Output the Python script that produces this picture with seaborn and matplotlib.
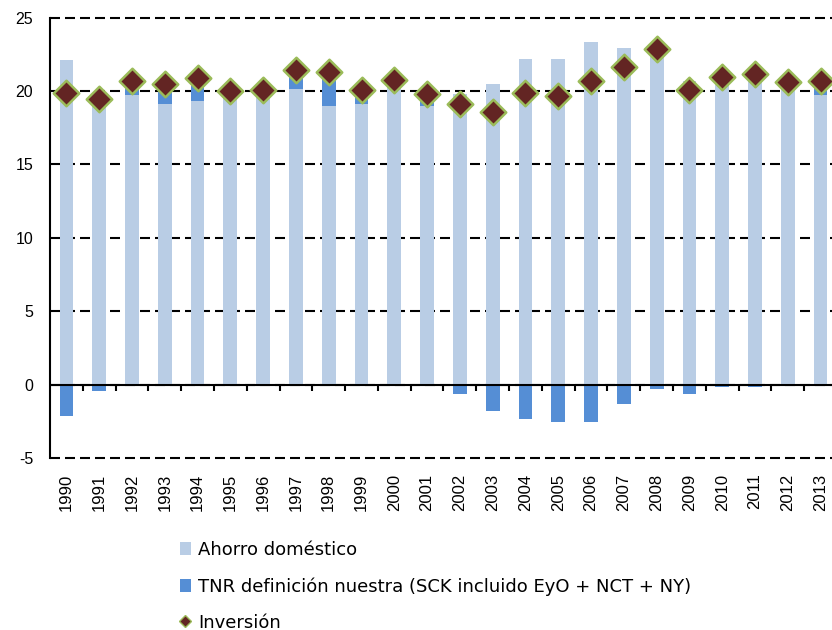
import numpy as np
import pandas as pd
import matplotlib
matplotlib.use("Agg")
import matplotlib.pyplot as plt
import seaborn as sns
from matplotlib.patches import Patch
from matplotlib.lines import Line2D

years = [str(y) for y in range(1990, 2014)]
ahorro = [22.1, 19.85, 19.7, 19.1, 19.3, 20.0, 20.05, 20.1, 19.0, 19.1, 20.75, 19.0,
          19.8, 20.45, 22.2, 22.2, 23.35, 22.95, 23.1, 20.7, 21.1, 21.3, 20.6, 19.7]
tnr = [-2.15, -0.4, 1.0, 1.4, 1.5, 0.0, 0.0, 1.35, 2.3, 0.95, 0.0, 0.8,
       -0.65, -1.8, -2.3, -2.55, -2.55, -1.3, -0.25, -0.65, -0.15, -0.15, 0.0, 0.95]
inversion = [19.85, 19.45, 20.7, 20.5, 20.85, 20.0, 20.05, 21.45, 21.3, 20.05, 20.75, 19.8,
             19.1, 18.6, 19.85, 19.65, 20.7, 21.6, 22.85, 20.05, 20.95, 21.15, 20.6, 20.65]

lab_ahorro = "Ahorro doméstico"
lab_tnr = "TNR definición nuestra (SCK incluido EyO + NCT + NY)"
lab_inv = "Inversión"

c_light = "#B9CDE5"
c_dark = "#558ED5"
c_face = "#632523"
c_edge = "#9BBB59"

df = pd.DataFrame({"year": years, "ahorro": ahorro, "tnr": tnr, "inv": inversion})
df["tnr_bottom"] = np.where(df["tnr"] > 0, df["ahorro"], 0.0)

sns.set_theme(style="white")
plt.rcParams["font.family"] = ["Liberation Sans", "DejaVu Sans"]
plt.rcParams["axes.unicode_minus"] = False

fig = plt.figure(figsize=(8.32, 6.30), dpi=100)
ax = fig.add_axes([50 / 832, 1 - 458.3 / 630, 787 / 832, (458.3 - 17.5) / 630])

sns.barplot(data=df, x="year", y="ahorro", order=years, color=c_light, saturation=1,
            width=0.42, errorbar=None, linewidth=0, ax=ax, zorder=2)
sns.barplot(data=df, x="year", y="tnr", order=years, color=c_dark, saturation=1,
            width=0.42, errorbar=None, linewidth=0, ax=ax, zorder=2,
            bottom=df["tnr_bottom"].to_numpy())
sns.stripplot(data=df, x="year", y="inv", order=years, jitter=False, marker="D",
              size=13, color=c_face, edgecolor=c_edge, linewidth=1.8, ax=ax, zorder=4)

ax.set_xlim(-0.5, len(years) - 0.5)
ax.set_ylim(-5, 25)
ax.set_yticks(range(-5, 26, 5))
ax.set_xlabel("")
ax.set_ylabel("")

ax.yaxis.grid(True, linestyle=(0, (4.8, 2.4)), color="black", linewidth=1.5, zorder=1)
ax.xaxis.grid(False)
ax.set_axisbelow(True)
for gl in ax.get_ygridlines():
    gl.set_clip_on(False)
ax.axhline(0, color="black", linewidth=1.5, zorder=3)

for s in ["top", "right", "bottom"]:
    ax.spines[s].set_visible(False)
ax.spines["left"].set_color("black")
ax.spines["left"].set_linewidth(1.5)

ax.tick_params(axis="y", length=0, pad=12, labelsize=11.5, colors="black")
ax.tick_params(axis="x", length=0, pad=11, labelsize=12, colors="black", labelrotation=90)

sec = ax.secondary_xaxis(5 / 30)
sec.set_xticks(np.arange(len(years)) + 0.5)
sec.set_xticklabels([])
sec.tick_params(axis="x", direction="out", length=4, width=1.5, color="black")
sec.spines["bottom"].set_visible(False)

handles = [Patch(facecolor=c_light, edgecolor="none", label=lab_ahorro),
           Patch(facecolor=c_dark, edgecolor="none", label=lab_tnr),
           Line2D([], [], marker="D", linestyle="none", markersize=6,
                  markerfacecolor=c_face, markeredgecolor=c_edge, markeredgewidth=1,
                  label=lab_inv)]
fig.legend(handles=handles, loc="upper left", bbox_to_anchor=(180 / 832, 1 - 541 / 630),
           frameon=False, prop={"family": ["DejaVu Sans"], "size": 13}, labelcolor="black",
           handlelength=0.6, handleheight=0.7,
           handletextpad=0.4, labelspacing=1.0, borderaxespad=0, borderpad=0)

fig.savefig("out.png", dpi=100)
